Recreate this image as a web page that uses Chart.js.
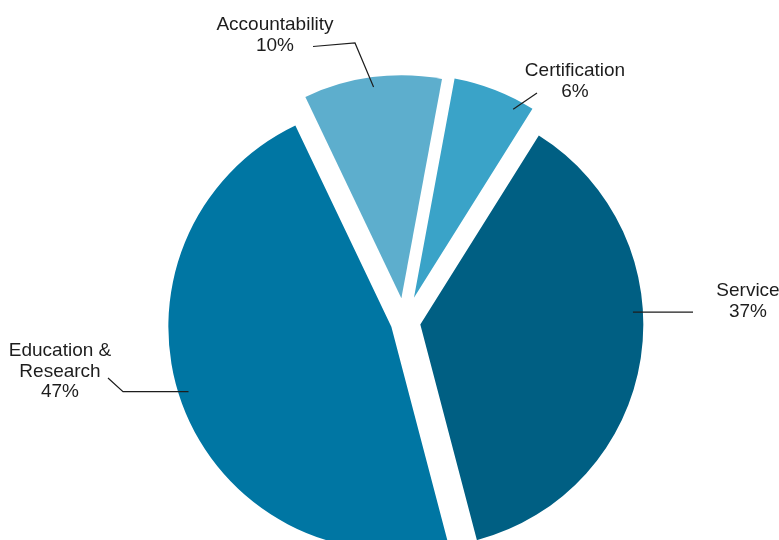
<!DOCTYPE html>
<html lang="en">
<head>
<meta charset="UTF-8">
<title>Programme Share</title>
<script src="https://cdn.jsdelivr.net/npm/chart.js"></script>
<style>
  * { margin: 0; padding: 0; box-sizing: border-box; }
  body { background: #ffffff; width: 779px; height: 540px; overflow: hidden; }
  #pie { display: block; }
</style>
</head>
<body>
<canvas id="pie" width="779" height="540"></canvas>
<script>
const categories = ['Accountability', 'Certification', 'Service', ['Education &', 'Research']];
const shares = [10, 6, 37, 47];
const sliceColors = ['#5daecd', '#3aa3c8', '#005f83', '#0076a3'];
// how far each slice is pulled out from the centre, px
const sliceGap = [24, 26, 16, 14];

// callouts: where along the slice the leader starts, its bend points, and the text block
const callouts = [
  { frac: 0.5, path: [[355, 43], [313, 46.5]], text: [275, 30] },
  { frac: 0.8, path: [[537, 93]], text: [575, 76] },
  { frac: 0.41, path: [[693, null]], text: [748, 296] },
  { frac: 0.514, path: [[123, null], [108, 378]], text: [60, 356] }
];

function sliceShift(arc, i) {
  const mid = (arc.startAngle + arc.endAngle) / 2;
  return { dx: Math.cos(mid) * sliceGap[i], dy: Math.sin(mid) * sliceGap[i] };
}

// pull every slice straight out along its middle angle
const explode = {
  id: 'explode',
  beforeDatasetDraw(chart, args) {
    const ctx = chart.ctx;
    args.meta.data.forEach((arc, i) => {
      const { dx, dy } = sliceShift(arc, i);
      ctx.save();
      ctx.translate(dx, dy);
      arc.draw(ctx, chart.chartArea);
      ctx.restore();
    });
    return false;
  }
};

const callout = {
  id: 'callout',
  afterDatasetsDraw(chart) {
    const ctx = chart.ctx;
    const arcs = chart.getDatasetMeta(0).data;
    ctx.save();
    ctx.strokeStyle = '#1d1d1d';
    ctx.fillStyle = '#1d1d1d';
    ctx.lineWidth = 1.2;
    ctx.font = '19px "Liberation Sans", Arial, sans-serif';
    ctx.textAlign = 'center';
    ctx.textBaseline = 'alphabetic';
    arcs.forEach((arc, i) => {
      const c = callouts[i];
      const { dx, dy } = sliceShift(arc, i);
      const a = arc.startAngle + (arc.endAngle - arc.startAngle) * c.frac;
      const r = arc.outerRadius * 0.955;
      const ax = arc.x + dx + Math.cos(a) * r;
      const ay = arc.y + dy + Math.sin(a) * r;
      ctx.beginPath();
      ctx.moveTo(ax, ay);
      c.path.forEach(([px, py]) => ctx.lineTo(px, py === null ? ay : py));
      ctx.stroke();
      const lines = [].concat(categories[i], shares[i] + '%');
      lines.forEach((t, k) => ctx.fillText(t, c.text[0], c.text[1] + k * 20.5));
    });
    ctx.restore();
  }
};

new Chart(document.getElementById('pie'), {
  type: 'pie',
  data: {
    labels: categories,
    datasets: [{
      data: shares,
      backgroundColor: sliceColors,
      borderWidth: 0
    }]
  },
  options: {
    responsive: false,
    animation: false,
    rotation: -25.5,
    radius: 223,
    layout: { padding: { left: 30, top: 104, right: 0, bottom: 0 } },
    plugins: {
      legend: { display: false },
      tooltip: { enabled: false }
    }
  },
  plugins: [explode, callout]
});
</script>
</body>
</html>
